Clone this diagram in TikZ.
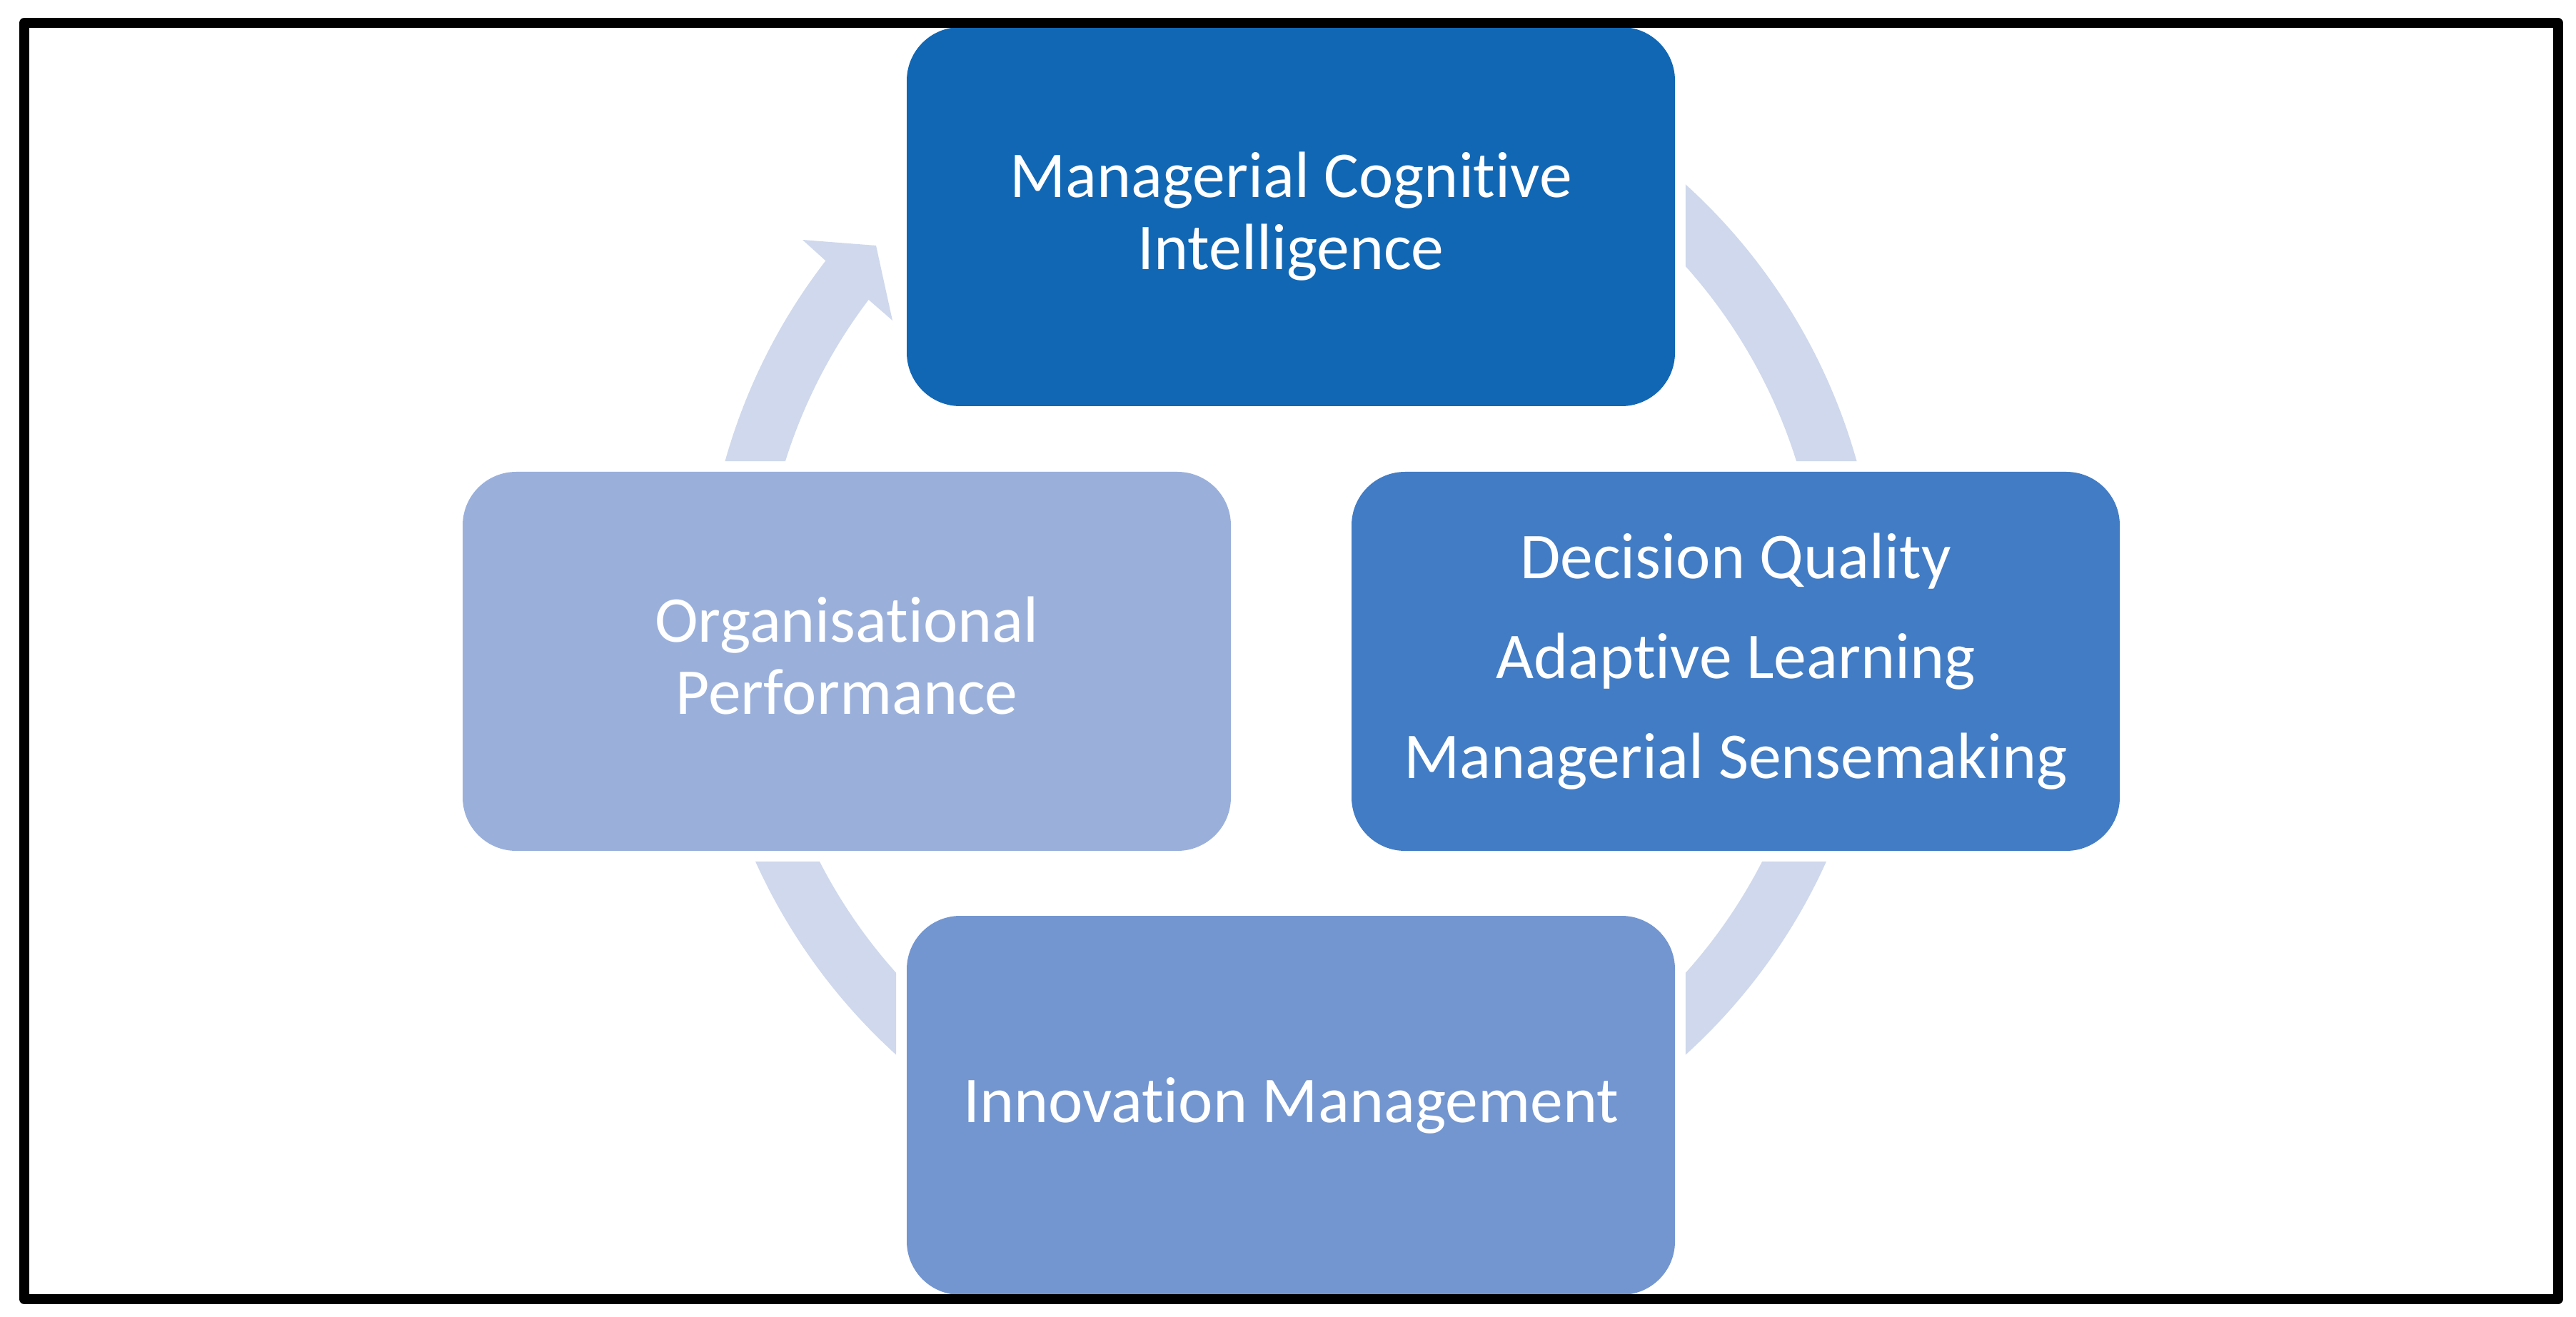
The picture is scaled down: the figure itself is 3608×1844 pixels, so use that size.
\documentclass[tikz,border=0pt]{standalone}
\usepackage{fontspec}
\setmainfont{Carlito}[Ligatures=NoCommon]
\usetikzlibrary{calc}
\definecolor{cTop}{RGB}{17,103,180}
\definecolor{cRight}{RGB}{66,124,197}
\definecolor{cLeft}{RGB}{154,176,219}
\definecolor{cBottom}{RGB}{115,150,208}
\definecolor{cArc}{RGB}{207,216,236}
\begin{document}
\begin{tikzpicture}[x=0.25pt,y=0.25pt,
  cyclebox/.style={rectangle, rounded corners=18.75pt, minimum width=269pt, minimum height=132.75pt,
    inner sep=0pt, text=white, align=center, font=\fontsize{22.9}{25.25}\selectfont},
  ringpart/.style={fill=cArc, draw=none}]
\useasboundingbox (0,0) rectangle (3608,1844);
\coordinate (C) at (1808,976);
\node[cyclebox, fill=cTop] (mci) at (1808,1540.5) {Managerial Cognitive\\Intelligence};
\node[cyclebox, fill=cRight, font=\fontsize{22.9}{35}\selectfont] (dq) at (2431,917.5) {Decision Quality\\Adaptive Learning\\Managerial Sensemaking};
\node[cyclebox, fill=cLeft] (op) at (1186,917.5) {Organisational\\Performance\vphantom{g}};
\node[cyclebox, fill=cBottom] (im) at (1808,295.5) {Innovation Management};
\begin{scope}[even odd rule]
\clip (0,0) rectangle (3608,1844)
  ($(mci.south west)+(-14,-14)$) rectangle ($(mci.north east)+(14,14)$)
  ($(dq.south west)+(-14,-14)$) rectangle ($(dq.north east)+(14,14)$)
  ($(op.south west)+(-14,-14)$) rectangle ($(op.north east)+(14,14)$)
  ($(im.south west)+(-14,-14)$) rectangle ($(im.north east)+(14,14)$);
% top -> right
\fill[ringpart] ($(C)+(55:205.75pt)$) arc[start angle=55, end angle=10, radius=205.75pt]
  -- ($(C)+(10:185.5pt)$) arc[start angle=10, end angle=55, radius=185.5pt] -- cycle;
% right -> bottom
\fill[ringpart] ($(C)+(-15:205.75pt)$) arc[start angle=-15, end angle=-60, radius=205.75pt]
  -- ($(C)+(-60:185.5pt)$) arc[start angle=-60, end angle=-15, radius=185.5pt] -- cycle;
% bottom -> left
\fill[ringpart] ($(C)+(240:205.75pt)$) arc[start angle=240, end angle=195, radius=205.75pt]
  -- ($(C)+(195:185.5pt)$) arc[start angle=195, end angle=240, radius=185.5pt] -- cycle;
% left -> top with arrow head
\fill[ringpart] ($(C)+(172:205.75pt)$) arc[start angle=172, end angle=142.35, radius=205.75pt]
  -- (1124,1508) -- (1227,1500) -- (1250,1395)
  -- ($(C)+(142.85:185.5pt)$) arc[start angle=142.85, end angle=172, radius=185.5pt] -- cycle;
\end{scope}
\draw[line width=3.5pt, line join=round] (34,1812) rectangle (3582.5,24);
\end{tikzpicture}
\end{document}
